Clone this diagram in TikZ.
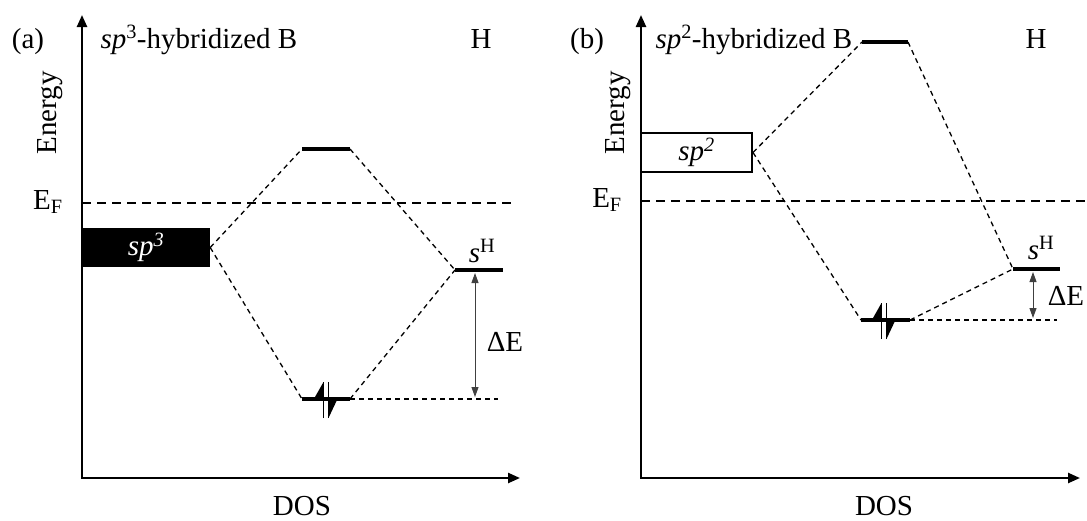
\documentclass[tikz,border=0pt]{standalone}
\usepackage{fontspec}
\setmainfont{Liberation Serif}
\usetikzlibrary{arrows.meta,positioning,calc}

\tikzset{
  axes/.style={line width=2.4pt,{Triangle[length=12pt,width=10pt]}-{Triangle[length=12pt,width=10pt]}},
  fermi/.style={line width=1.8pt,dash pattern=on 9pt off 6pt},
  link/.style={line width=1.3pt,dash pattern=on 5pt off 4pt},
  level/.style={line width=4.5pt},
  gap/.style={line width=0.9pt,draw=black!75,{Triangle[length=10pt,width=7pt]}-{Triangle[length=10pt,width=7pt]}},
  filledorb/.style={fill=black,text=white,minimum width=128pt,minimum height=39pt,inner sep=0pt},
  emptyorb/.style={draw,line width=2pt,fill=white,minimum width=111pt,minimum height=39pt,inner sep=0pt},
}
% two electrons with opposite spin on a level
\newcommand{\spinpair}[1]{%
  \begin{scope}[shift={(#1)}]
    \draw[line width=1.5pt] (-2.5,19) -- (-2.5,-17);
    \fill (-2.5,-17) -- (-11,-2) -- (-2.5,-2) -- cycle;
    \draw[line width=1.5pt] (2.5,-17) -- (2.5,19);
    \fill (2.5,19) -- (11,1) -- (2.5,1) -- cycle;
  \end{scope}}

\begin{document}
\begin{tikzpicture}[x=1pt,y=-1pt,font=\fontsize{29}{35}\selectfont]
\useasboundingbox (0,0) rectangle (1087,520);

% (a) sp3
\coordinate (a-o) at (82,478);
\coordinate (a-ytip) at (82,15);
\coordinate (a-xtip) at (520,478);
\draw[axes] (a-ytip) -- (a-o) -- (a-xtip);
\node[anchor=base] (a-tag) at (28,48) {(a)};
\node[anchor=base west] (a-title) at (97,48) {\textit{sp}\textsuperscript{3}-hybridized B};
\node[anchor=base] (a-H) at (481,48) {H};
\node[rotate=90] (a-energy) at (50,113) {Energy};
\node[anchor=base] (a-ef) at (48,209) {E\textsubscript{F}};
\node[anchor=base] (a-dos) at (302,515) {DOS};
\draw[fermi] (82,203) -- (513,203);

\node[filledorb] (a-sp) at (146,247.5) {\textit{sp\textsuperscript{3}}};
\coordinate (a-up-w) at (302,149);
\coordinate (a-up-e) at (350,149);
\coordinate (a-dn-w) at (302,399);
\coordinate (a-dn-e) at (350,399);
\coordinate (a-h-w) at (455,270);
\coordinate (a-h-e) at (503,270);
\coordinate (a-ref) at (498,399);
\draw[level] (a-up-w) -- (a-up-e);
\draw[level] (a-dn-w) -- (a-dn-e);
\draw[level] (a-h-w) -- (a-h-e);
\draw[link] (a-sp.east) -- (a-up-w);
\draw[link] (a-sp.east) -- (a-dn-w);
\draw[link] (a-up-e) -- (a-h-w);
\draw[link] (a-dn-e) -- (a-h-w);
\draw[link] (a-dn-e) -- (a-ref);
\spinpair{326,399}
\node[anchor=base] (a-sh) at (482,262) {\textit{s}\textsuperscript{H}};
\coordinate (a-gap-t) at (475,273);
\coordinate (a-gap-b) at (475,397);
\draw[gap] (a-gap-t) -- (a-gap-b);
\node[anchor=base] (a-de) at (505,351) {ΔE};

% (b) sp2
\coordinate (b-o) at (641,478);
\coordinate (b-ytip) at (641,15);
\coordinate (b-xtip) at (1080,478);
\draw[axes] (b-ytip) -- (b-o) -- (b-xtip);
\node[anchor=base] (b-tag) at (587,48) {(b)};
\node[anchor=base west] (b-title) at (652,48) {\textit{sp}\textsuperscript{2}-hybridized B};
\node[anchor=base] (b-H) at (1036,48) {H};
\node[rotate=90] (b-energy) at (618,113) {Energy};
\node[anchor=base] (b-ef) at (607,207) {E\textsubscript{F}};
\node[anchor=base] (b-dos) at (884,515) {DOS};
\draw[fermi] (641,201) -- (1087,201);

\node[emptyorb] (b-sp) at (696.5,152.5) {\textit{sp\textsuperscript{2}}};
\coordinate (b-up-w) at (862,42);
\coordinate (b-up-e) at (908,42);
\coordinate (b-dn-w) at (861,320);
\coordinate (b-dn-e) at (910,320);
\coordinate (b-h-w) at (1013,269);
\coordinate (b-h-e) at (1060,269);
\coordinate (b-ref) at (1057,320);
\draw[level] (b-up-w) -- (b-up-e);
\draw[level] (b-dn-w) -- (b-dn-e);
\draw[level] (b-h-w) -- (b-h-e);
\draw[link] (b-sp.east) -- (b-up-w);
\draw[link] (b-sp.east) -- (b-dn-w);
\draw[link] (b-up-e) -- (b-h-w);
\draw[link] (b-dn-e) -- (b-h-w);
\draw[link] (b-dn-e) -- (b-ref);
\spinpair{884,320}
\node[anchor=base] (b-sh) at (1041,259) {\textit{s}\textsuperscript{H}};
\coordinate (b-gap-t) at (1033,272);
\coordinate (b-gap-b) at (1033,318);
\draw[gap] (b-gap-t) -- (b-gap-b);
\node[anchor=base] (b-de) at (1066,305) {ΔE};
\end{tikzpicture}
\end{document}
